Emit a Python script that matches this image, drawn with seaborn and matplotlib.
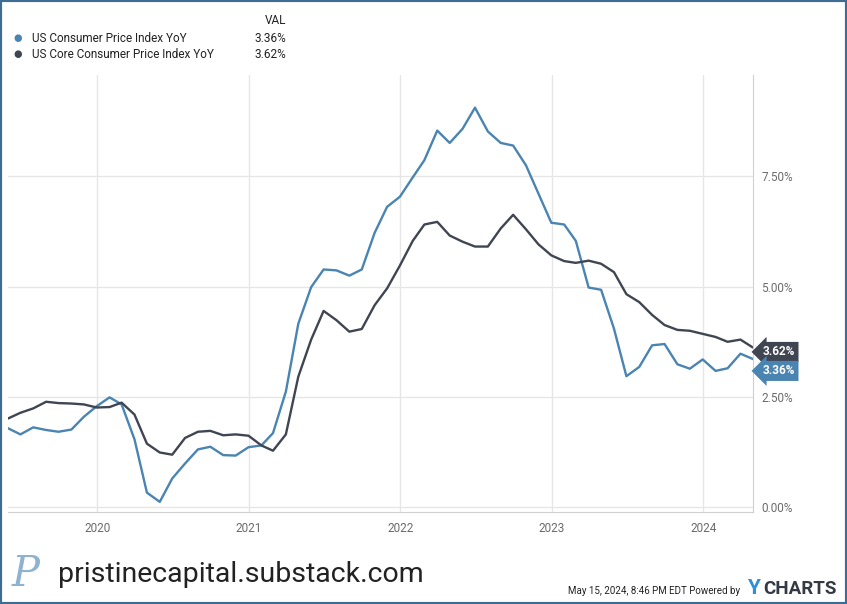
import pandas as pd
import matplotlib.pyplot as plt
import matplotlib.dates as mdates
from matplotlib.patches import Rectangle
import seaborn as sns

# monthly YoY values, May 2019 - Apr 2024 (month-end dates)
cpi = [1.79, 1.65, 1.81, 1.75, 1.71, 1.76, 2.05, 2.29,
       2.49, 2.33, 1.54, 0.33, 0.12, 0.65, 0.99, 1.31, 1.37, 1.18, 1.17, 1.36,
       1.40, 1.68, 2.62, 4.16, 4.99, 5.39, 5.37, 5.25, 5.39, 6.22, 6.81, 7.04,
       7.48, 7.87, 8.54, 8.26, 8.58, 9.06, 8.52, 8.26, 8.20, 7.75, 7.11, 6.45,
       6.41, 6.04, 4.98, 4.93, 4.05, 2.97, 3.18, 3.67, 3.70, 3.24, 3.14, 3.35,
       3.09, 3.15, 3.48, 3.36]
core = [2.01, 2.14, 2.24, 2.39, 2.36, 2.35, 2.33, 2.26,
        2.27, 2.37, 2.10, 1.44, 1.24, 1.19, 1.57, 1.71, 1.73, 1.63, 1.65, 1.62,
        1.40, 1.28, 1.65, 2.96, 3.80, 4.45, 4.24, 3.98, 4.04, 4.58, 4.96, 5.48,
        6.04, 6.41, 6.47, 6.16, 6.02, 5.91, 5.91, 6.32, 6.63, 6.30, 5.96, 5.71,
        5.58, 5.54, 5.59, 5.52, 5.33, 4.83, 4.65, 4.36, 4.13, 4.02, 4.00, 3.93,
        3.86, 3.75, 3.80, 3.62]
dates = pd.date_range('2019-05-31', periods=len(cpi), freq='ME')
names = ['US Consumer Price Index YoY', 'US Core Consumer Price Index YoY']
last_vals = ['3.36%', '3.62%']
colors = ['#4a84b0', '#404552']
y_ticks = [0, 2.5, 5, 7.5]

df = pd.DataFrame({'date': list(dates) * 2,
                   'value': cpi + core,
                   'series': [names[0]] * len(cpi) + [names[1]] * len(core)})

sns.set_style('white')
plt.rcParams['font.family'] = ['Roboto', 'DejaVu Sans']

fig = plt.figure(figsize=(8.47, 6.04), dpi=100)
ax = fig.add_axes([0.0094, 0.1523, 0.8795, 0.7235])
sns.lineplot(data=df, x='date', y='value', hue='series', palette=colors,
             linewidth=1.7, legend=False, ax=ax)

ax.set_xlim(dates[0], dates[-1])
ax.set_ylim(-0.11, 9.8)
ax.set_xlabel('')
ax.set_ylabel('')
ax.xaxis.set_major_locator(mdates.YearLocator())
ax.xaxis.set_major_formatter(mdates.DateFormatter('%Y'))
ax.set_yticks(y_ticks)
ax.set_yticklabels([f'{v:.2f}%' for v in y_ticks])
ax.yaxis.tick_right()
ax.tick_params(axis='both', length=0, labelsize=8.5, colors='#6b6b6b')
ax.tick_params(axis='y', pad=6)
ax.tick_params(axis='x', pad=7)
ax.grid(True, color='#e6e6e6', linewidth=1)
for s in ['top', 'left']:
    ax.spines[s].set_visible(False)
for s in ['right', 'bottom']:
    ax.spines[s].set_color('#d0d0d0')

# end-of-series value tags
trans = ax.get_yaxis_transform()
ax.text(1.013, 3.52, last_vals[1], transform=trans, color='white', fontsize=8.5,
        fontweight='bold', va='center', ha='left',
        bbox=dict(boxstyle='larrow,pad=0.3', fc=colors[1], ec='none'))
ax.text(1.013, 3.09, last_vals[0], transform=trans, color='white', fontsize=8.5,
        fontweight='bold', va='center', ha='left',
        bbox=dict(boxstyle='larrow,pad=0.3', fc=colors[0], ec='none'))

# legend block
fig.text(286 / 847, 1 - 21 / 604, 'VAL', ha='right', va='center', fontsize=8.5, color='#222222')
for i, yy in enumerate([38, 54]):
    fig.text(18 / 847, 1 - yy / 604, '●', ha='center', va='center', fontsize=7, color=colors[i])
    fig.text(32 / 847, 1 - yy / 604, names[i], ha='left', va='center', fontsize=8.5, color='#222222')
    fig.text(286 / 847, 1 - yy / 604, last_vals[i], ha='right', va='center', fontsize=8.5, color='#222222')

# footer
fig.text(12 / 847, 1 - 574 / 604, 'P', ha='left', va='center', fontsize=30,
         family='DejaVu Serif', style='italic', color='#8fb3cf')
fig.text(58 / 847, 1 - 575 / 604, 'pristinecapital.substack.com', ha='left', va='center',
         fontsize=20.5, color='#222222')
fig.text(740 / 847, 1 - 591 / 604, 'May 15, 2024, 8:46 PM EDT Powered by', ha='right',
         va='center', fontsize=7, color='#222222')
fig.text(747 / 847, 1 - 589 / 604, 'Y', ha='left', va='center', fontsize=15,
         fontweight='bold', color='#2f8fd8')
fig.text(763 / 847, 1 - 589 / 604, 'CHARTS', ha='left', va='center', fontsize=13.5,
         fontweight='bold', color='#333a45')

fig.patches.append(Rectangle((0, 0), 1, 1, transform=fig.transFigure, fill=False,
                             ec='#3e6d94', lw=3))

fig.savefig('out.png', dpi=100)
